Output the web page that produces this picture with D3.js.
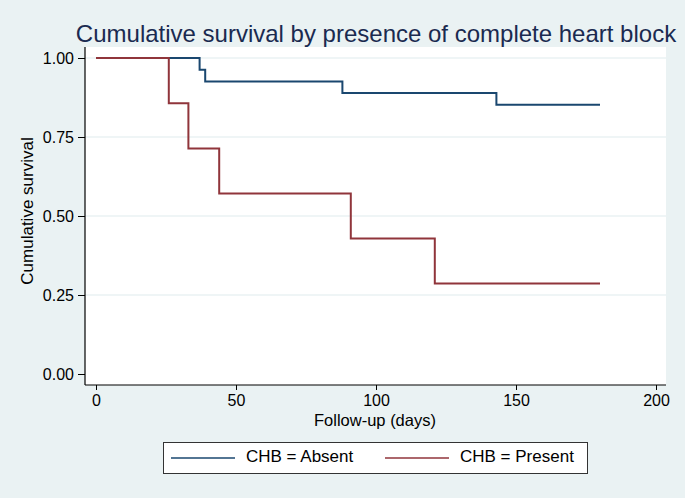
<!DOCTYPE html>
<html><head><meta charset="utf-8">
<script src="https://cdn.jsdelivr.net/npm/d3@7"></script>
<style>body{margin:0;background:#eaf2f3;} svg{display:block;font-family:"Liberation Sans",Arial,sans-serif;}</style>
</head><body>
<script>
const title = "Cumulative survival by presence of complete heart block";
const xLabel = "Follow-up (days)";
const yLabel = "Cumulative survival";
const xTicks = [0, 50, 100, 150, 200];
const yTicks = [0, 0.25, 0.5, 0.75, 1.0];
const seriesNames = ["CHB = Absent", "CHB = Present"];
const seriesColors = ["#1a476f", "#90353b"];
// step points: [time, survival]
const absentTimes = [0, 37, 39, 88, 143, 180];
const absentSurv = [1.0, 0.963, 0.926, 0.889, 0.852, 0.852];
const presentTimes = [0, 26, 33, 44, 91, 121, 180];
const presentSurv = [1.0, 0.857, 0.714, 0.571, 0.429, 0.286, 0.286];

(function(){
const W = 685, H = 498;
const svg = d3.select("body").append("svg").attr("width", W).attr("height", H);
svg.append("rect").attr("width", W).attr("height", H).attr("fill", "#eaf2f3");

const pL = 85, pR = 666, pT = 47, pB = 385;
const x = d3.scaleLinear().domain([0, 200]).range([96, 656]);
const y = d3.scaleLinear().domain([0, 1]).range([374, 58]);

svg.append("rect").attr("x", pL).attr("y", pT).attr("width", pR - pL).attr("height", pB - pT).attr("fill", "#fff");

// grid
svg.append("g").selectAll("line").data(yTicks.filter(d => d > 0)).join("line")
  .attr("x1", pL).attr("x2", pR).attr("y1", d => y(d)).attr("y2", d => y(d))
  .attr("stroke", "#eaf2f3").attr("stroke-width", 1.5);

// title
svg.append("text").attr("x", 376).attr("y", 42).attr("text-anchor", "middle")
  .attr("font-size", 24).attr("fill", "#1a2a50").text(title);

// axes
const yAxis = d3.axisLeft(y).tickValues(yTicks).tickFormat(d3.format(".2f")).tickSize(7).tickPadding(4);
const gy = svg.append("g").attr("transform", `translate(${pL},0)`).call(yAxis);
gy.select(".domain").remove();
gy.append("line").attr("x1", 0).attr("x2", 0).attr("y1", pT).attr("y2", pB).attr("stroke", "#000").attr("stroke-width", 1.2);
gy.selectAll("text").attr("font-size", 16).attr("fill", "#000").attr("font-family", "Liberation Sans, Arial, sans-serif");

const xAxis = d3.axisBottom(x).tickValues(xTicks).tickFormat(d3.format("d")).tickSize(5).tickPadding(5);
const gx = svg.append("g").attr("transform", `translate(0,${pB})`).call(xAxis);
gx.select(".domain").remove();
gx.append("line").attr("x1", pL).attr("x2", pR).attr("y1", 0).attr("y2", 0).attr("stroke", "#000").attr("stroke-width", 1.2);
gx.selectAll("text").attr("font-size", 16).attr("fill", "#000").attr("font-family", "Liberation Sans, Arial, sans-serif");

svg.append("text").attr("x", 375).attr("y", 425.5).attr("text-anchor", "middle").attr("font-size", 16.5).text(xLabel);
svg.append("text").attr("transform", "translate(33,211) rotate(-90)").attr("text-anchor", "middle").attr("font-size", 17).text(yLabel);

// lines
const line = d3.line().x(d => x(d[0])).y(d => y(d[1])).curve(d3.curveStepAfter);
const data = [absentTimes.map((t, i) => [t, absentSurv[i]]), presentTimes.map((t, i) => [t, presentSurv[i]])];
[0, 1].forEach(i => {
  svg.append("path").datum(data[i]).attr("d", line).attr("fill", "none")
    .attr("stroke", seriesColors[i]).attr("stroke-width", 2);
});

// legend
const lg = svg.append("g");
lg.append("rect").attr("x", 163.5).attr("y", 442.5).attr("width", 424).attr("height", 31).attr("fill", "#fff").attr("stroke", "#333").attr("stroke-width", 1);
const legX = [[171, 235, 246], [385, 449, 460]];
seriesNames.forEach((n, i) => {
  lg.append("line").attr("x1", legX[i][0]).attr("x2", legX[i][1]).attr("y1", 458).attr("y2", 458).attr("stroke", seriesColors[i]).attr("stroke-width", 1.5);
  lg.append("text").attr("x", legX[i][2]).attr("y", 462).attr("font-size", 17).text(n);
});
})();
</script>
</body></html>
